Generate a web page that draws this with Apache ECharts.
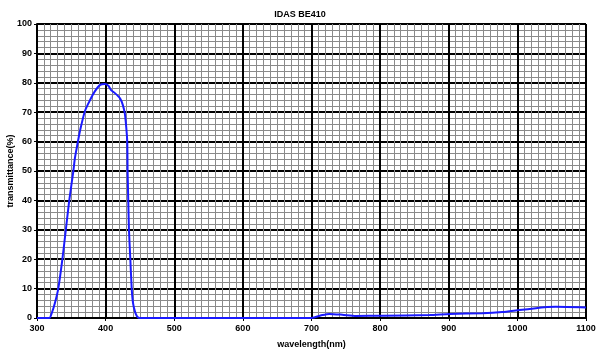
<!DOCTYPE html>
<html>
<head>
<meta charset="utf-8">
<script src="https://cdn.jsdelivr.net/npm/echarts@6/dist/echarts.min.js"></script>
<style>
html,body{margin:0;padding:0;background:#fff;}
#chart{width:600px;height:356px;}
</style>
</head>
<body>
<div id="chart"></div>
<script>
const titleText = 'IDAS BE410';
const xName = 'wavelength(nm)';
const yName = 'transmittance(%)';
const wavelength = [300, 318, 322, 326, 331, 337, 342, 347, 353, 355, 358, 363, 370, 377, 384, 392, 399, 404, 408, 414, 421, 425, 428, 430, 431.5, 432, 433, 434, 436, 438, 440, 443, 446, 450, 700, 716, 726, 745, 765, 802, 872, 901, 949, 978, 1003, 1027, 1044, 1056, 1100];
const transmittance = [0, 0, 2, 5, 10, 20, 30, 40, 50, 54, 58, 64, 70.5, 74, 77, 79.3, 79.6, 79, 77.5, 76.4, 74.7, 72.5, 69.5, 65, 60, 50, 40, 30, 20, 10, 5, 2, 0.5, 0, 0, 1, 1.4, 1.1, 0.7, 0.8, 1, 1.4, 1.6, 2, 2.7, 3.3, 3.7, 3.8, 3.6];

const chart = echarts.init(document.getElementById('chart'), null, {renderer: 'canvas'});
const font = 'Liberation Sans, Arial, sans-serif';
chart.setOption({
  animation: false,
  backgroundColor: '#fff',
  title: {
    text: titleText, left: 'center', top: 5,
    textStyle: {fontFamily: font, fontSize: 9, fontWeight: 'bold', color: '#000'}
  },
  grid: {left: 37, right: 14, top: 24, bottom: 38, containLabel: false, outerBoundsMode: 'none'},
  xAxis: {
    type: 'value', min: 300, max: 1100, interval: 100,
    name: xName, nameLocation: 'middle', nameGap: 22, nameMoveOverlap: false,
    nameTextStyle: {fontFamily: font, fontSize: 9, fontWeight: 'bold', color: '#000'},
    axisLine: {show: true, onZero: false, lineStyle: {color: '#000', width: 2}},
    axisTick: {show: true, length: 3, lineStyle: {color: '#000', width: 1}},
    axisLabel: {fontFamily: font, fontSize: 9, fontWeight: 'bold', color: '#000', margin: 6,
      formatter: v => String(v)},
    splitLine: {show: true, lineStyle: {color: '#000', width: 2}},
    minorTick: {show: false, splitNumber: 10},
    minorSplitLine: {show: true, lineStyle: {color: '#8a8a8a', width: 1}}
  },
  yAxis: {
    type: 'value', min: 0, max: 100, interval: 10,
    name: yName, nameLocation: 'middle', nameGap: 22, nameRotate: 90, nameMoveOverlap: false,
    nameTextStyle: {fontFamily: font, fontSize: 9, fontWeight: 'bold', color: '#000'},
    axisLine: {show: true, lineStyle: {color: '#000', width: 2}},
    axisTick: {show: true, length: 3, lineStyle: {color: '#000', width: 1}},
    axisLabel: {fontFamily: font, fontSize: 9, fontWeight: 'bold', color: '#000', margin: 5},
    splitLine: {show: true, lineStyle: {color: '#000', width: 2}},
    minorTick: {show: false, splitNumber: 5},
    minorSplitLine: {show: true, lineStyle: {color: '#8a8a8a', width: 1}}
  },
  series: [{
    type: 'line',
    data: wavelength.map((w, i) => [w, transmittance[i]]),
    showSymbol: false,
    smooth: 0.2,
    lineStyle: {color: '#1a1aff', width: 2},
    z: 5
  }]
});
</script>
</body>
</html>
